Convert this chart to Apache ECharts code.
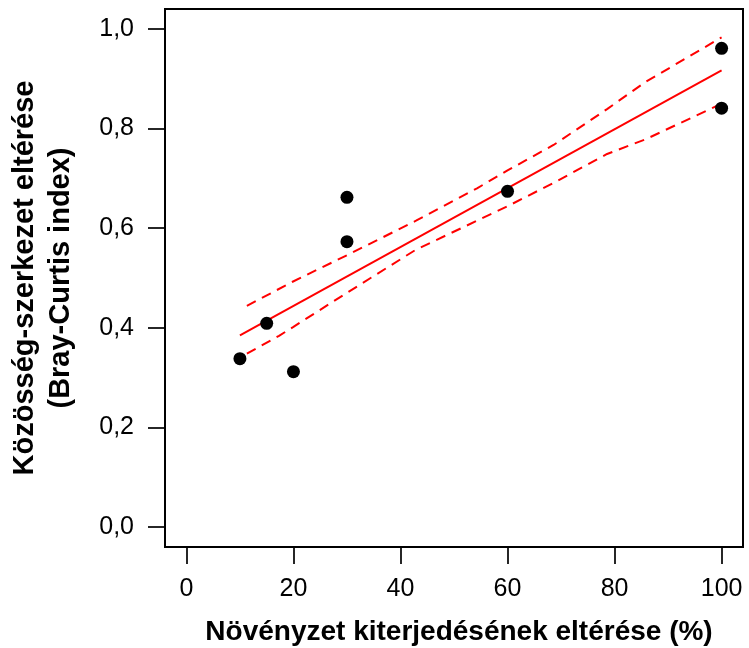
<!DOCTYPE html>
<html>
<head>
<meta charset="utf-8">
<script src="https://cdn.jsdelivr.net/npm/echarts@6/dist/echarts.min.js"></script>
<style>
  html, body { margin: 0; padding: 0; background: #fff; }
  #chart { width: 749px; height: 648px; }
</style>
</head>
<body>
<div id="chart"></div>
<script>
// Observations: vegetation extent difference (%) vs. community dissimilarity
const xValues = [10, 15, 20, 30, 30, 60, 100, 100];
const yValues = [0.338, 0.409, 0.312, 0.573, 0.662, 0.674, 0.961, 0.841];

// Fitted regression line
const fitX = [10, 100];
const fitY = [0.385, 0.917];

// Confidence band (upper and lower)
const upperX = [11.3, 19.75, 30.8, 42.9, 54.3, 60, 68.6, 78.6, 85.7, 100];
const upperY = [0.444, 0.492, 0.550, 0.615, 0.680, 0.716, 0.767, 0.839, 0.893, 0.983];
const lowerX = [11.3, 17.3, 20, 30.1, 42.9, 54.3, 60, 68.6, 78.6, 85.7, 100];
const lowerY = [0.348, 0.384, 0.402, 0.471, 0.557, 0.615, 0.644, 0.691, 0.749, 0.778, 0.850];

// Tick positions
const xTicks = [0, 20, 40, 60, 80, 100];
const yTicks = [0, 0.2, 0.4, 0.6, 0.8, 1.0];

const zip = (a, b) => a.map((v, i) => [v, b[i]]);
const FONT = "'Liberation Sans', Arial, sans-serif";

const chart = echarts.init(document.getElementById('chart'), null, { renderer: 'canvas' });

chart.setOption({
  animation: false,
  backgroundColor: '#fff',
  grid: {
    left: 165, right: 6, top: 9, bottom: 101,
    outerBoundsMode: 'none', containLabel: false,
    show: true, borderColor: '#000', borderWidth: 2, backgroundColor: 'transparent'
  },
  xAxis: {
    type: 'value', min: -4, max: 104,
    name: 'Növényzet kiterjedésének eltérése (%)',
    nameLocation: 'middle', nameGap: 71,
    nameTextStyle: { fontFamily: FONT, fontSize: 28, fontWeight: 'bold', color: '#000',
      padding: [0, 0, 0, 10] },
    axisLine: { show: false, onZero: false },
    splitLine: { show: false },
    axisTick: { show: true, inside: false, length: 17, customValues: xTicks,
      lineStyle: { color: '#000', width: 1.7 } },
    axisLabel: { customValues: xTicks, margin: 30, fontFamily: FONT, fontSize: 25, color: '#000' }
  },
  yAxis: {
    type: 'value', min: -0.04, max: 1.04,
    name: 'Közösség-szerkezet eltérése\n(Bray-Curtis index)',
    nameLocation: 'middle', nameGap: 86, nameRotate: 90,
    nameTextStyle: { fontFamily: FONT, fontSize: 29, fontWeight: 'bold', color: '#000', lineHeight: 36 },
    axisLine: { show: false, onZero: false },
    splitLine: { show: false },
    axisTick: { show: true, inside: false, length: 17, customValues: yTicks,
      lineStyle: { color: '#000', width: 1.7 } },
    axisLabel: { customValues: yTicks, margin: 31, fontFamily: FONT, fontSize: 25, color: '#000',
      formatter: v => v.toFixed(1).replace('.', ',') }
  },
  series: [
    {
      type: 'line', data: zip(upperX, upperY), symbol: 'none', silent: true,
      lineStyle: { color: '#ff0000', width: 2, type: [10, 7] }
    },
    {
      type: 'line', data: zip(lowerX, lowerY), symbol: 'none', silent: true,
      lineStyle: { color: '#ff0000', width: 2, type: [10, 7] }
    },
    {
      type: 'line', data: zip(fitX, fitY), symbol: 'none', silent: true,
      lineStyle: { color: '#ff0000', width: 2 }
    },
    {
      type: 'scatter', data: zip(xValues, yValues), symbol: 'circle', symbolSize: 13,
      itemStyle: { color: '#000', opacity: 1 }, z: 5
    }
  ]
});
</script>
</body>
</html>
